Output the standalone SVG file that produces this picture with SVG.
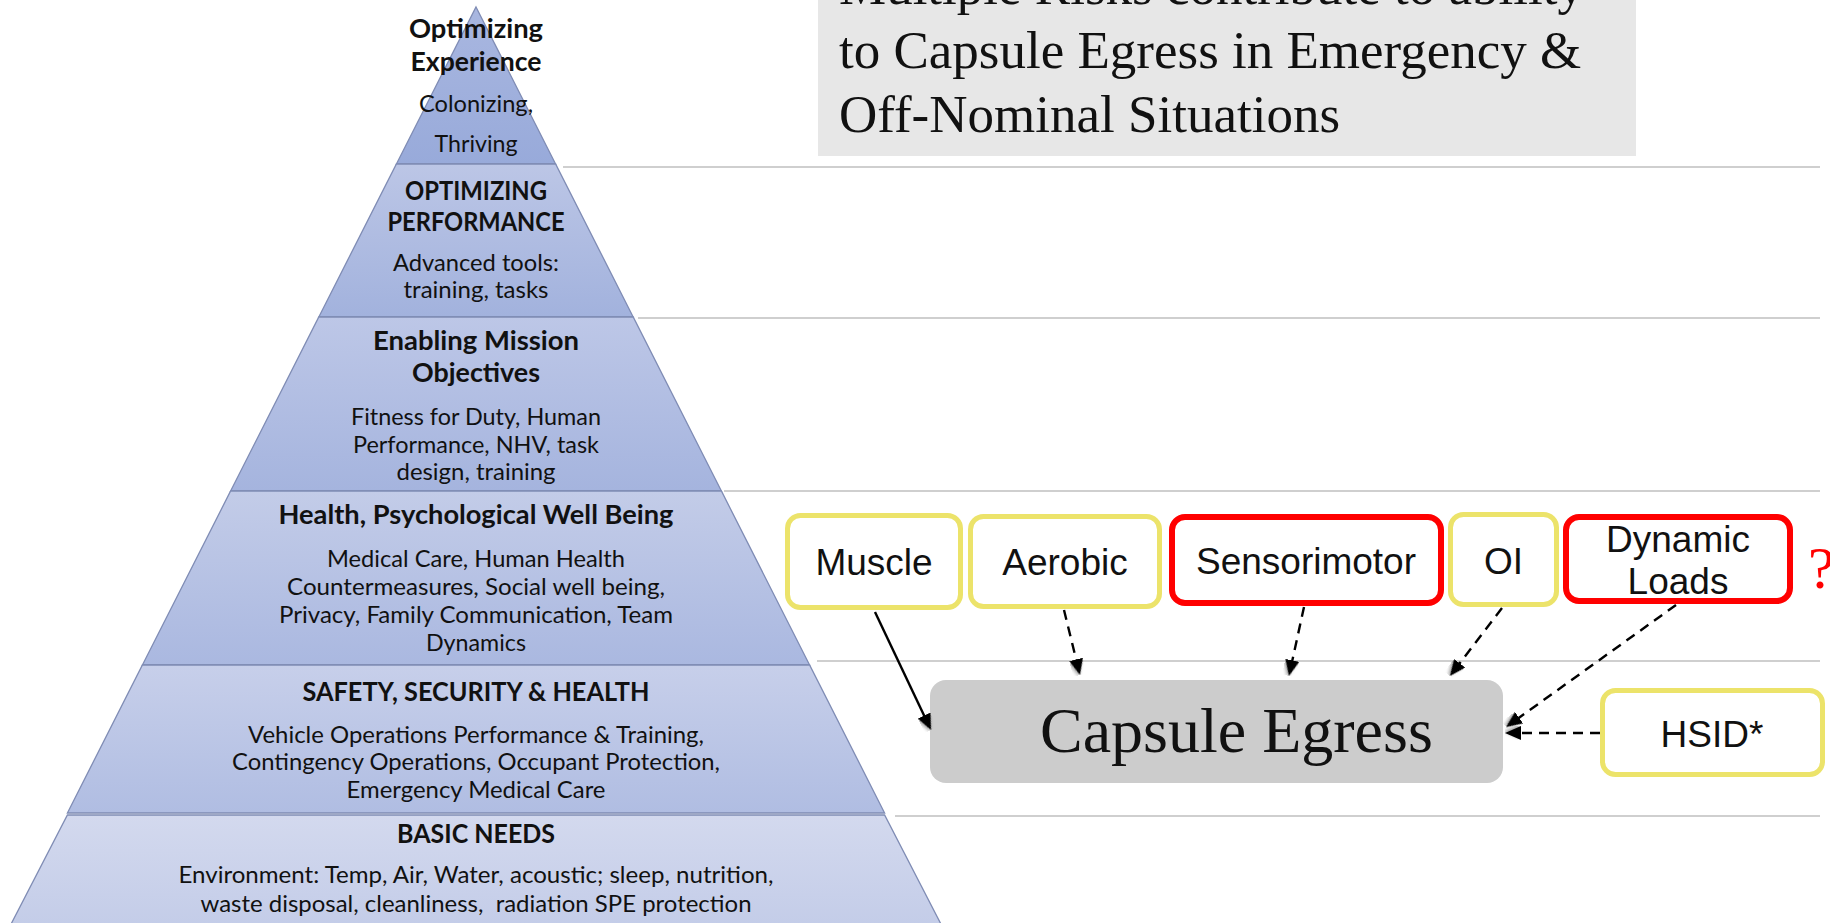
<svg xmlns="http://www.w3.org/2000/svg" width="1830" height="923" viewBox="0 0 1830 923">
<style>
.pt{font-family:Lato,"Open Sans","Liberation Sans",sans-serif;fill:#111;text-anchor:middle;font-size:23px}
.ph{font-family:Lato,"Open Sans","Liberation Sans",sans-serif;fill:#111;text-anchor:middle;font-size:27px;font-weight:bold}
.tier{stroke:#7f8cb4;stroke-width:1.3}
.hl{stroke:#cfcfcf;stroke-width:2.2}
.title{font-family:"Liberation Serif","Times New Roman",serif;font-size:53px;fill:#111}
.lbl{font-family:"Liberation Sans",Arial,sans-serif;font-size:37px;fill:#111;text-anchor:middle}
.yb{fill:#fff;stroke:#ece36a;stroke-width:5}
.rb{fill:#fff;stroke:#ff0000;stroke-width:6}
.con{fill:none;stroke:#000;stroke-width:2.4}
.dash{stroke-dasharray:10 7}
</style>
<defs>
<linearGradient id="g1" x1="0" y1="0" x2="0" y2="1"><stop offset="0" stop-color="#a9b7e0"/><stop offset="1" stop-color="#98aada"/></linearGradient>
<linearGradient id="g2" x1="0" y1="0" x2="0" y2="1"><stop offset="0" stop-color="#bcc6e6"/><stop offset="1" stop-color="#a2b2dd"/></linearGradient>
<linearGradient id="g3" x1="0" y1="0" x2="0" y2="1"><stop offset="0" stop-color="#bdc7e7"/><stop offset="1" stop-color="#a5b4de"/></linearGradient>
<linearGradient id="g4" x1="0" y1="0" x2="0" y2="1"><stop offset="0" stop-color="#c3cce8"/><stop offset="1" stop-color="#aab8e0"/></linearGradient>
<linearGradient id="g5" x1="0" y1="0" x2="0" y2="1"><stop offset="0" stop-color="#c7cfea"/><stop offset="1" stop-color="#b0bde2"/></linearGradient>
<linearGradient id="g6" x1="0" y1="0" x2="0" y2="1"><stop offset="0" stop-color="#d3d9ee"/><stop offset="1" stop-color="#c3cce8"/></linearGradient>
<filter id="sh" x="-50%" y="-50%" width="200%" height="200%"><feDropShadow dx="1.5" dy="1.5" stdDeviation="1.8" flood-color="#000" flood-opacity="0.35"/></filter>
<marker id="ah" viewBox="0 0 16 14" markerUnits="userSpaceOnUse" markerWidth="16" markerHeight="14" refX="12" refY="7" orient="auto">
<path d="M0,0 L16,7 L0,14 z" fill="#000" filter="url(#sh)"/>
</marker>
</defs>

<g id="background-lines">
<line class="hl" x1="563" y1="167" x2="1820" y2="167"/>
<line class="hl" x1="638" y1="318" x2="1820" y2="318"/>
<line class="hl" x1="724" y1="491" x2="1820" y2="491"/>
<line class="hl" x1="817" y1="661" x2="1820" y2="661"/>
<line class="hl" x1="895" y1="816" x2="1820" y2="816"/>
</g>

<g id="tier-optimizing-experience">
<polygon class="tier" fill="url(#g1)" points="476,7 555.6,164 396.4,164"/>
<text class="ph" x="476" y="38" textLength="134" lengthAdjust="spacingAndGlyphs">Optimizing</text>
<text class="ph" x="476" y="71" textLength="131" lengthAdjust="spacingAndGlyphs">Experience</text>
<text class="pt" x="476" y="112" textLength="114" lengthAdjust="spacingAndGlyphs">Colonizing,</text>
<text class="pt" x="476" y="152" textLength="83" lengthAdjust="spacingAndGlyphs">Thriving</text>
</g>

<g id="tier-optimizing-performance">
<polygon class="tier" fill="url(#g2)" points="396.4,164 555.6,164 633.2,317 318.8,317"/>
<text class="ph" x="476" y="200" textLength="142" lengthAdjust="spacingAndGlyphs">OPTIMIZING</text>
<text class="ph" x="476" y="231" textLength="177" lengthAdjust="spacingAndGlyphs">PERFORMANCE</text>
<text class="pt" x="476" y="271" textLength="166" lengthAdjust="spacingAndGlyphs">Advanced tools:</text>
<text class="pt" x="476" y="298" textLength="145" lengthAdjust="spacingAndGlyphs">training, tasks</text>
</g>

<g id="tier-enabling-mission">
<polygon class="tier" fill="url(#g3)" points="318.8,317 633.2,317 721.4,491 230.6,491"/>
<text class="ph" x="476" y="350" textLength="206" lengthAdjust="spacingAndGlyphs">Enabling Mission</text>
<text class="ph" x="476" y="382" textLength="128" lengthAdjust="spacingAndGlyphs">Objectives</text>
<text class="pt" x="476" y="425" textLength="250" lengthAdjust="spacingAndGlyphs">Fitness for Duty, Human</text>
<text class="pt" x="476" y="453" textLength="246" lengthAdjust="spacingAndGlyphs">Performance, NHV, task</text>
<text class="pt" x="476" y="480" textLength="159" lengthAdjust="spacingAndGlyphs">design, training</text>
</g>

<g id="tier-health">
<polygon class="tier" fill="url(#g4)" points="230.6,491 721.4,491 809.6,665 142.4,665"/>
<text class="ph" x="476" y="524" textLength="395" lengthAdjust="spacingAndGlyphs">Health, Psychological Well Being</text>
<text class="pt" x="476" y="567" textLength="298" lengthAdjust="spacingAndGlyphs">Medical Care, Human Health</text>
<text class="pt" x="476" y="595" textLength="378" lengthAdjust="spacingAndGlyphs">Countermeasures, Social well being,</text>
<text class="pt" x="476" y="623" textLength="394" lengthAdjust="spacingAndGlyphs">Privacy, Family Communication, Team</text>
<text class="pt" x="476" y="651" textLength="100" lengthAdjust="spacingAndGlyphs">Dynamics</text>
</g>

<g id="tier-safety">
<polygon class="tier" fill="url(#g5)" points="142.4,665 809.6,665 884.6,813 67.4,813"/>
<text class="ph" x="476" y="701" textLength="347" lengthAdjust="spacingAndGlyphs">SAFETY, SECURITY &amp; HEALTH</text>
<text class="pt" x="476" y="743" textLength="456" lengthAdjust="spacingAndGlyphs">Vehicle Operations Performance &amp; Training,</text>
<text class="pt" x="476" y="770" textLength="488" lengthAdjust="spacingAndGlyphs">Contingency Operations, Occupant Protection,</text>
<text class="pt" x="476" y="798" textLength="259" lengthAdjust="spacingAndGlyphs">Emergency Medical Care</text>
</g>

<g id="tier-basic-needs">
<polygon class="tier" fill="url(#g6)" points="67.4,815 884.6,815 944,930 8,930"/>
<text class="ph" x="476" y="843" textLength="158" lengthAdjust="spacingAndGlyphs">BASIC NEEDS</text>
<text class="pt" x="476" y="883" textLength="595" lengthAdjust="spacingAndGlyphs">Environment: Temp, Air, Water, acoustic; sleep, nutrition,</text>
<text class="pt" x="476" y="912" textLength="551" lengthAdjust="spacingAndGlyphs" xml:space="preserve">waste disposal, cleanliness,  radiation SPE protection</text>
</g>

<g id="title">
<rect x="818" y="-2" width="818" height="158" fill="#e7e7e7"/>
<text class="title" x="839" y="4">Multiple Risks contribute to ability</text>
<text class="title" x="839" y="68">to Capsule Egress in Emergency &amp;</text>
<text class="title" x="839" y="132">Off-Nominal Situations</text>
</g>

<g id="capsule-egress">
<rect x="930" y="680" width="573" height="103" rx="16" fill="#cccccc"/>
<text x="1040" y="752" font-family="'Liberation Serif','Times New Roman',serif" font-size="64" fill="#111">Capsule Egress</text>
</g>

<g id="muscle">
<rect class="yb" x="787.5" y="515.5" width="173" height="92" rx="13"/>
<text class="lbl" x="874" y="575">Muscle</text>
</g>
<g id="aerobic">
<rect class="yb" x="970.5" y="516.5" width="189" height="90" rx="13"/>
<text class="lbl" x="1065" y="575">Aerobic</text>
</g>
<g id="sensorimotor">
<rect class="rb" x="1172" y="517" width="269" height="86" rx="13"/>
<text class="lbl" x="1306" y="574">Sensorimotor</text>
</g>
<g id="oi">
<rect class="yb" x="1450.5" y="514.5" width="106" height="90" rx="13"/>
<text class="lbl" x="1503.5" y="574">OI</text>
</g>
<g id="dynamic-loads">
<rect class="rb" x="1566" y="517" width="224" height="84" rx="13"/>
<text class="lbl" x="1678" y="552">Dynamic</text>
<text class="lbl" x="1678" y="594">Loads</text>
<text x="1808" y="588" font-family="'Liberation Serif','Times New Roman',serif" font-size="60" fill="#ff0000">?</text>
</g>
<g id="hsid">
<rect class="yb" x="1602.5" y="690.5" width="220" height="84" rx="13"/>
<text class="lbl" x="1712" y="747">HSID*</text>
</g>

<g id="connectors">
<line class="con" x1="875" y1="612" x2="929.3" y2="726.4" marker-end="url(#ah)"/>
<line class="con dash" x1="1064" y1="610" x2="1079" y2="671.1" marker-end="url(#ah)"/>
<line class="con dash" x1="1304" y1="607" x2="1289.8" y2="672.1" marker-end="url(#ah)"/>
<line class="con dash" x1="1502" y1="608" x2="1452.4" y2="672.8" marker-end="url(#ah)"/>
<line class="con dash" x1="1676" y1="605" x2="1509.3" y2="724.7" marker-end="url(#ah)"/>
<line class="con dash" x1="1600" y1="733" x2="1509" y2="733" marker-end="url(#ah)"/>
</g>
</svg>
